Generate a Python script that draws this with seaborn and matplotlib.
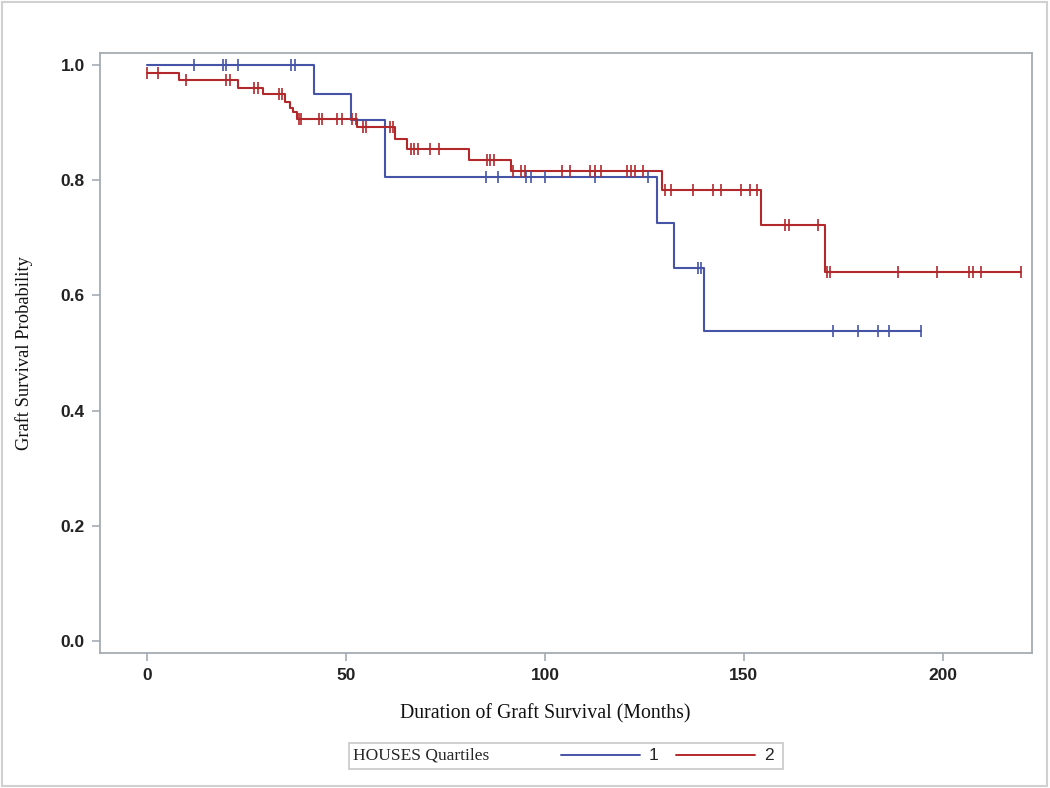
import numpy as np
import pandas as pd
import seaborn as sns
import matplotlib.pyplot as plt
from matplotlib.lines import Line2D
from matplotlib.patches import Rectangle

# Kaplan-Meier steps (months, survival)
g1_times = [0, 42.1, 51.2, 59.9, 128.1, 132.5, 140.0]
g1_surv = [1.0, 0.950, 0.905, 0.806, 0.726, 0.647, 0.539]
g1_censor = [11.9, 19.2, 19.8, 23.0, 36.1, 37.1, 85.3, 88.1, 95.2, 96.4, 100.1,
             112.6, 126.0, 138.4, 139.2, 172.4, 178.8, 183.6, 186.5, 194.4]

g2_times = [0, 8.1, 23.0, 29.1, 34.7, 36.0, 36.8, 37.8, 52.9, 62.3, 65.3,
            80.9, 91.4, 129.4, 154.2, 170.3]
g2_surv = [0.986, 0.974, 0.960, 0.950, 0.936, 0.925, 0.918, 0.907, 0.893, 0.872,
           0.855, 0.835, 0.816, 0.783, 0.723, 0.641]
g2_censor = [0, 2.9, 9.8, 19.9, 20.8, 27.0, 27.9, 33.1, 34.0, 38.2, 38.8, 43.2,
             44.1, 47.8, 48.9, 51.6, 52.5, 54.3, 55.0, 61.0, 61.8, 66.3, 67.2,
             68.2, 71.2, 73.3, 85.4, 86.3, 87.3, 92.1, 94.1, 94.9, 104.2, 106.3,
             111.3, 112.6, 114.1, 120.6, 121.6, 122.7, 124.6, 130.2, 131.6, 137.2,
             142.2, 144.3, 149.3, 151.5, 153.3, 160.3, 161.3, 168.5, 170.8, 171.6,
             188.7, 198.6, 206.5, 207.6, 209.7, 219.6]

groups = ['1', '2']
colors = {'1': '#4654a8', '2': '#b3282b'}

# build step-line and censor tables
lines, marks = [], []
for g, t, s, c in [('1', g1_times, g1_surv, g1_censor), ('2', g2_times, g2_surv, g2_censor)]:
    tt = list(t) + [max(c)]
    ss = list(s) + [s[-1]]
    lines.append(pd.DataFrame({'time': tt, 'surv': ss, 'group': g}))
    idx = np.searchsorted(t, c, side='right') - 1
    marks.append(pd.DataFrame({'time': c, 'surv': np.array(s)[idx], 'group': g}))
df_line = pd.concat(lines, ignore_index=True)
df_mark = pd.concat(marks, ignore_index=True)

sns.set_style('white')
fig = plt.figure(figsize=(10.5, 7.88), dpi=100)
ax = fig.add_axes([100 / 1050, 1 - 653 / 788, 932 / 1050, 600 / 788])

sns.lineplot(data=df_line, x='time', y='surv', hue='group', palette=colors,
             drawstyle='steps-post', estimator=None, sort=False, linewidth=1.5,
             legend=False, ax=ax)
for g in groups:
    d = df_mark[df_mark['group'] == g]
    ax.plot(d['time'], d['surv'], linestyle='none', marker='|', markersize=8,
            markeredgewidth=1.2, color=colors[g])

ax.set_xlim(-11.8, 222.4)
ax.set_ylim(-0.021, 1.021)
ax.set_xticks([0, 50, 100, 150, 200])
ax.set_yticks([0.0, 0.2, 0.4, 0.6, 0.8, 1.0])
ax.set_yticklabels(['0.0', '0.2', '0.4', '0.6', '0.8', '1.0'])
axis_gray = '#a4abb2'
for sp in ax.spines.values():
    sp.set_color(axis_gray)
    sp.set_linewidth(1.3)
ax.tick_params(axis='both', which='major', length=6, width=1.2, color=axis_gray,
               direction='out', left=True, bottom=True, pad=5)
for lab in ax.get_xticklabels() + ax.get_yticklabels():
    lab.set_fontfamily('Liberation Sans')
    lab.set_fontsize(12.5)
    lab.set_fontweight('bold')
    lab.set_color('#222222')

ax.set_xlabel('Duration of Graft Survival (Months)', family='Liberation Serif',
              fontsize=14.3, color='#111111')
ax.set_ylabel('Graft Survival Probability', family='Liberation Serif',
              fontsize=13.3, color='#111111')
ax.xaxis.set_label_coords(0.478, -0.085)
ax.yaxis.set_label_coords(-0.072, 0.5)

# legend box below the axes
fig.add_artist(Rectangle((349 / 1050, 1 - 769 / 788), 434 / 1050, 26 / 788,
                         transform=fig.transFigure, fill=False,
                         edgecolor='#c8c8c8', linewidth=1.2))
fig.text(353 / 1050, 1 - 756 / 788, 'HOUSES Quartiles', family='Liberation Serif',
         fontsize=12.5, va='center', ha='left')
for g, x0 in [('1', 561), ('2', 676)]:
    fig.add_artist(Line2D([x0 / 1050, (x0 + 79) / 1050], [1 - 755 / 788] * 2,
                          transform=fig.transFigure, color=colors[g], linewidth=1.4))
    fig.text((x0 + 88) / 1050, 1 - 756 / 788, g, family='Liberation Sans',
             fontsize=12.5, va='center', ha='left')

# outer frame
fig.add_artist(Rectangle((2 / 1050, 2 / 788), 1045 / 1050, 784 / 788,
                         transform=fig.transFigure, fill=False,
                         edgecolor='#d0d0d0', linewidth=1.5))

fig.savefig('out.png', dpi=100)
